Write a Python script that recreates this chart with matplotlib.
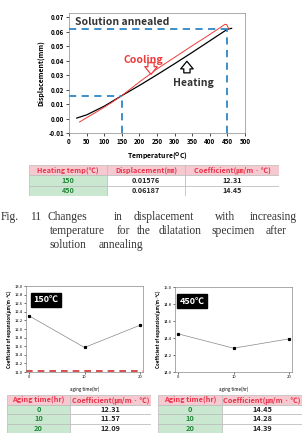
import matplotlib
matplotlib.use("Agg")
import matplotlib.pyplot as plt
from matplotlib.patches import Rectangle

plt.rcParams['font.family'] = ['Noto Sans CJK KR', 'DejaVu Sans']

W, H = 305, 440

# ---- dilatation curves ----
heat_temp = [22, 50, 100, 150, 200, 250, 300, 350, 400, 450, 462]
heat_disp = [0.0003, 0.0025, 0.0085, 0.01576, 0.0228, 0.0302, 0.0378, 0.0456, 0.0536, 0.0616, 0.0622]
cool_temp = [30, 45, 60, 80, 100, 120, 150, 200, 250, 300, 350, 400, 430, 443, 448, 452, 456]
cool_disp = [-0.0024, -0.0002, 0.002, 0.0048, 0.0078, 0.0108, 0.0158, 0.0252, 0.0342, 0.0422, 0.0502, 0.0580, 0.0628, 0.0650, 0.0648, 0.0628, 0.0620]

mark_temp = [150, 450]
mark_disp = [0.01576, 0.06187]
mark_coef = [12.31, 14.45]

# ---- aging results ----
aging_time = [0, 10, 20]
coef_150 = [12.31, 11.57, 12.09]
coef_450 = [14.45, 14.28, 14.39]

PINK = "#f6c9d0"
PINK_TXT = "#e8334a"
GREEN = "#c9e8cf"
GREEN_TXT = "#23873a"
BLUE = "#2f86c6"


def px_box(l, t, r, b):
    return [l / W, 1 - b / H, (r - l) / W, (b - t) / H]


def draw_table(box, col_edges, rows, fs):
    # rows[0] is header; col_edges in pixels relative to table left
    ax = fig.add_axes(px_box(*box))
    ax.set_xlim(0, box[2] - box[0])
    ax.set_ylim(box[3] - box[1], 0)
    ax.axis("off")
    n = len(rows)
    rh = (box[3] - box[1]) / n
    for i, row in enumerate(rows):
        for j, val in enumerate(row):
            x0, x1 = col_edges[j], col_edges[j + 1]
            if i == 0:
                fc, tc = PINK, PINK_TXT
            elif j == 0:
                fc, tc = GREEN, GREEN_TXT
            else:
                fc, tc = "white", "#222222"
            ax.add_patch(Rectangle((x0, i * rh), x1 - x0, rh, facecolor=fc,
                                   edgecolor="#bbbbbb", linewidth=0.5))
            ax.text((x0 + x1) / 2, i * rh + rh / 2, val, ha="center", va="center",
                    fontsize=fs, color=tc, fontweight="bold")
    return ax


fig = plt.figure(figsize=(W / 100, H / 100), dpi=100)

# ---------------- top dilatation chart ----------------
ax = fig.add_axes(px_box(69, 13, 245, 133))
ax.plot(heat_temp, heat_disp, color="black", lw=0.9)
ax.plot(cool_temp, cool_disp, color="#f03a3a", lw=0.7)
for t, d in zip(mark_temp, mark_disp):
    ax.plot([0, t], [d, d], color=BLUE, lw=1.3, ls=(0, (4, 3)))
    ax.plot([t, t], [-0.01, d], color=BLUE, lw=1.3, ls=(0, (4, 3)))
ax.set_xlim(0, 500)
ax.set_ylim(-0.01, 0.0728)
ax.set_xticks(range(0, 501, 50))
ax.set_yticks([-0.01, 0.0, 0.01, 0.02, 0.03, 0.04, 0.05, 0.06, 0.07])
ax.set_yticklabels(["-0.01", "0.00", "0.01", "0.02", "0.03", "0.04", "0.05", "0.06", "0.07"])
ax.tick_params(labelsize=4.5, length=2, width=0.5, pad=1.5)
for lab in ax.get_xticklabels() + ax.get_yticklabels():
    lab.set_fontweight("bold")
for s in ax.spines.values():
    s.set_linewidth(0.5)
    s.set_color("#888888")
ax.set_ylabel("Displacement(mm)", fontsize=5, fontweight="bold", labelpad=3)
ax.set_xlabel("Temperature($\\mathbf{^{O}}$C)", fontsize=5, fontweight="bold", labelpad=4)
ax.text(17, 0.0665, "Solution annealed", fontsize=7.5, fontweight="bold",
        color="#333333", va="center")
ax.text(154, 0.0403, "Cooling", fontsize=7.5, fontweight="bold", color="#f03a3a", va="center")
ax.text(296, 0.0245, "Heating", fontsize=7.5, fontweight="bold", color="#333333", va="center")
arrow_style = "simple,head_width=0.9,head_length=0.55,tail_width=0.45"
ax.annotate("", xy=(233, 0.0305), xytext=(233, 0.0385),
            arrowprops=dict(arrowstyle=arrow_style, mutation_scale=10, shrinkA=0, shrinkB=0,
                            fc="white", ec="#f03a3a", lw=0.9))
ax.annotate("", xy=(335, 0.0395), xytext=(335, 0.0315),
            arrowprops=dict(arrowstyle=arrow_style, mutation_scale=10, shrinkA=0, shrinkB=0,
                            fc="white", ec="black", lw=0.9))

# ---------------- table under top chart ----------------
rows1 = [["Heating temp(℃)", "Displacement(㎜)", "Coefficient(㎛/m · ℃)"]]
for t, d, c in zip(mark_temp, mark_disp, mark_coef):
    rows1.append([str(t), f"{d:.5f}", f"{c:.2f}"])
draw_table((29, 165, 279, 196), [0, 78, 156, 250], rows1, 5.2)

# ---------------- caption ----------------
serif = ["Liberation Serif", "DejaVu Serif"]
cap_lines = [
    (217, [(1, "Fig."), (30, "11"), (47, "Changes"), (114, "in"), (134, "displacement"),
           (215, "with"), (250, "increasing")]),
    (231, [(50, "temperature"), (117, "for"), (137, "the"), (159, "dilatation"),
           (212, "specimen"), (266, "after")]),
    (245, [(50, "solution"), (99, "annealing")]),
]
for y, words in cap_lines:
    for x, w in words:
        fig.text(x / W, 1 - y / H, w, family=serif, fontsize=8.3, ha="left",
                 va="center", color="#333333")

# ---------------- aging charts ----------------
def aging_chart(box, coef, ylim, yticks, label, lab_xy, red_line=False):
    a = fig.add_axes(px_box(*box))
    a.plot(aging_time, coef, color="#888888", lw=0.5, marker="s", ms=1.3,
           mfc="black", mec="black")
    if red_line:
        a.axhline(ylim[0] + 0.02, color="#d03030", lw=1.2, ls=(0, (4, 3)))
    a.set_xlim(-0.5, 20.5)
    a.set_ylim(*ylim)
    a.set_xticks([0, 10, 20])
    a.set_yticks(yticks)
    a.set_yticklabels([f"{v:.1f}" for v in yticks])
    a.tick_params(labelsize=3, length=1.5, width=0.4, pad=1)
    for s in a.spines.values():
        s.set_linewidth(0.5)
        s.set_color("#888888")
    a.set_ylabel("Coefficient of expansion(μm/m·℃)", fontsize=3.2, fontweight="bold", labelpad=2)
    a.set_xlabel("aging time(hr)", fontsize=3.2, labelpad=5)
    a.text(lab_xy[0], lab_xy[1], label, transform=a.transAxes, fontsize=6.5,
           fontweight="bold", color="white", ha="center", va="center",
           bbox=dict(boxstyle="square,pad=0.25", fc="black", ec="black"))
    return a


aging_chart((26, 286, 143, 372), coef_150, (11.0, 13.0),
            [11.0 + 0.2 * i for i in range(11)], "150℃", (0.17, 0.84), red_line=True)
aging_chart((175, 287, 292, 372), coef_450, (14.0, 15.0),
            [14.0 + 0.2 * i for i in range(6)], "450℃", (0.145, 0.835))

hdr = ["Aging time(hr)", "Coefficient(㎛/m · ℃)"]
rows_l = [hdr] + [[str(t), f"{c:.2f}"] for t, c in zip(aging_time, coef_150)]
rows_r = [hdr] + [[str(t), f"{c:.2f}"] for t, c in zip(aging_time, coef_450)]
draw_table((7, 395, 151, 433), [0, 63, 144], rows_l, 5.3)
draw_table((158, 395, 302, 433), [0, 64, 144], rows_r, 5.3)

fig.savefig("out.png", dpi=100)
